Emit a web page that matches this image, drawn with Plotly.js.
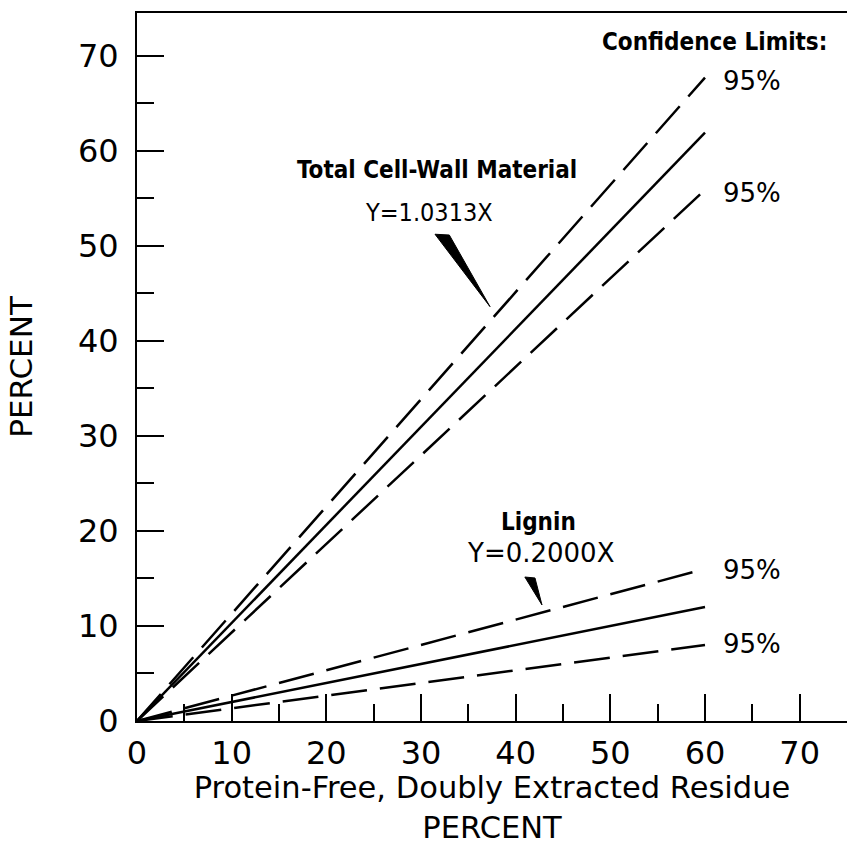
<!DOCTYPE html>
<html>
<head>
<meta charset="utf-8">
<script src="https://cdn.plot.ly/plotly-3.0.1.min.js"></script>
<style>html,body{margin:0;padding:0;background:#fff;}#chart{width:847px;height:845px;}</style>
</head>
<body>
<div id="chart"></div>
<script>
// Data
const xEnds = [0, 60];
const cellWallFit = [0, 61.9];     // Y = 1.0313X
const cellWallUpper = [0, 67.7];   // 95% confidence limit
const cellWallLower = [0, 55.9];   // 95% confidence limit
const ligninFit = [0, 12.0];       // Y = 0.2000X
const ligninUpper = [0, 16.0];     // 95% confidence limit
const ligninLower = [0, 8.0];      // 95% confidence limit
const tickValues = [0, 10, 20, 30, 40, 50, 60, 70];
const tickLabels = ['0', '10', '20', '30', '40', '50', '60', '70'];

const solid = {color: '#000', width: 2.5};
const dashed = {color: '#000', width: 2.5, dash: '36px,13px'};

const traces = [
  {x: xEnds, y: cellWallUpper, mode: 'lines', line: dashed},
  {x: xEnds, y: cellWallFit, mode: 'lines', line: solid},
  {x: xEnds, y: cellWallLower, mode: 'lines', line: dashed},
  {x: xEnds, y: ligninUpper, mode: 'lines', line: dashed},
  {x: xEnds, y: ligninFit, mode: 'lines', line: solid},
  {x: xEnds, y: ligninLower, mode: 'lines', line: dashed}
];

const tickFont = {family: 'DejaVu Sans', size: 32, color: '#000'};
const condFont = {family: 'DejaVu Sans Condensed', size: 24, color: '#000', weight: 'bold'};
const eqFont = {family: 'DejaVu Sans', size: 26, color: '#000'};
const pctFont = {family: 'DejaVu Sans', size: 26, color: '#000'};

function ann(text, x, y, font, xanchor) {
  return {text: text, x: x, y: y, xref: 'x', yref: 'y', showarrow: false,
          font: font, xanchor: xanchor || 'center', yanchor: 'middle'};
}

const layout = {
  width: 847, height: 845,
  margin: {l: 137, r: 0, t: 13, b: 124},
  paper_bgcolor: '#fff', plot_bgcolor: '#fff',
  showlegend: false,
  xaxis: {
    range: [0, 75], showgrid: false, zeroline: false,
    showline: true, linewidth: 2, linecolor: '#000', mirror: true,
    ticks: 'inside', ticklen: 27, tickwidth: 2, tickcolor: '#000',
    tickvals: tickValues, ticktext: tickLabels, tickfont: tickFont,
    ticklabelstandoff: 3,
    minor: {dtick: 5, tick0: 0, ticks: 'inside', ticklen: 17, tickwidth: 2, tickcolor: '#000', showgrid: false},
    title: {text: 'Protein-Free, Doubly Extracted Residue<br>PERCENT',
            font: {family: 'DejaVu Sans', size: 30.5, color: '#000'}, standoff: 10}
  },
  yaxis: {
    range: [0, 74.5], showgrid: false, zeroline: false,
    showline: true, linewidth: 2, linecolor: '#000',
    ticks: 'inside', ticklen: 27, tickwidth: 2, tickcolor: '#000',
    tickvals: tickValues, ticktext: tickLabels, tickfont: tickFont,
    ticklabelstandoff: 10,
    minor: {dtick: 5, tick0: 0, ticks: 'inside', ticklen: 17, tickwidth: 2, tickcolor: '#000', showgrid: false},
    title: {text: 'PERCENT', font: {family: 'DejaVu Sans', size: 31, color: '#000'}, standoff: 36}
  },
  annotations: [
    ann('Confidence Limits:', 61.05, 71.5, condFont),
    ann('95%', 61.7, 67.35, pctFont, 'left'),
    ann('95%', 61.7, 55.56, pctFont, 'left'),
    ann('95%', 61.7, 15.89, pctFont, 'left'),
    ann('95%', 61.7, 8.1, pctFont, 'left'),
    ann('Total Cell-Wall Material', 31.74, 57.98, condFont),
    ann('Y=1.0313X', 30.8, 53.56, {family: 'DejaVu Sans Condensed', size: 25, color: '#000'}),
    ann('Lignin', 42.41, 20.94, condFont),
    ann('Y=0.2000X', 42.62, 17.68, eqFont)
  ],
  shapes: [
    {type: 'path', xref: 'x', yref: 'y', path: 'M31.48,51.22 L32.99,51.14 L37.29,43.6 Z',
     fillcolor: '#000', line: {color: '#000', width: 1}},
    {type: 'path', xref: 'x', yref: 'y', path: 'M40.97,15.15 L42.04,15.05 L42.78,12.21 Z',
     fillcolor: '#000', line: {color: '#000', width: 1}}
  ]
};

Plotly.newPlot('chart', traces, layout, {displayModeBar: false, staticPlot: true});
</script>
</body>
</html>
